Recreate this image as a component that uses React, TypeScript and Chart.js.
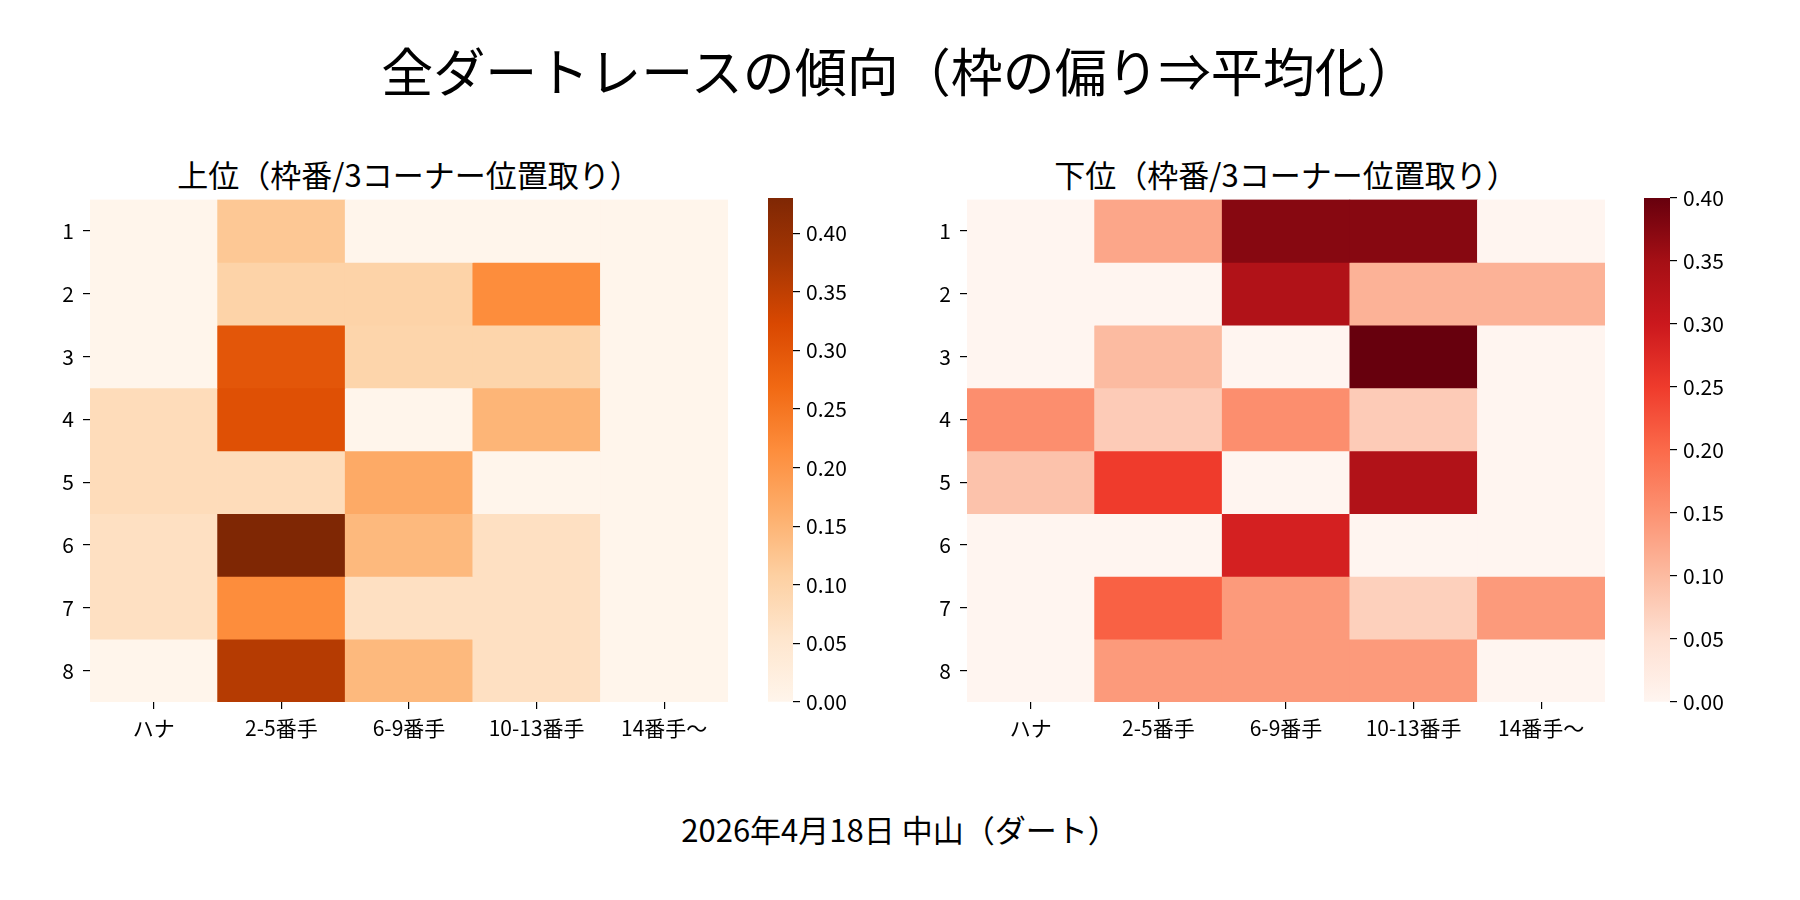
import { useEffect, useRef } from 'react';
import { Chart, registerables } from 'chart.js';

Chart.register(...registerables);

const FONT = '"Noto Sans CJK JP", "Noto Sans", sans-serif';

const columns = ['ハナ', '2-5番手', '6-9番手', '10-13番手', '14番手～'];
const rows = ['1', '2', '3', '4', '5', '6', '7', '8'];

// 上位 (rows = 枠番 1..8, cols = 3コーナー位置取り)
const topValues = [
  [0, 0.12, 0, 0, 0],
  [0, 0.1, 0.1, 0.215, 0],
  [0, 0.3, 0.096, 0.096, 0],
  [0.078, 0.31, 0, 0.15, 0],
  [0.078, 0.078, 0.167, 0, 0],
  [0.068, 0.43, 0.144, 0.068, 0],
  [0.068, 0.215, 0.068, 0.068, 0],
  [0, 0.36, 0.144, 0.068, 0],
];

// 下位
const bottomValues = [
  [0, 0.126, 0.374, 0.374, 0],
  [0, 0, 0.334, 0.111, 0.111],
  [0, 0.1, 0, 0.4, 0],
  [0.155, 0.078, 0.155, 0.078, 0],
  [0.09, 0.25, 0, 0.334, 0],
  [0, 0, 0.288, 0, 0],
  [0, 0.21, 0.14, 0.072, 0.14],
  [0, 0.14, 0.14, 0.14, 0],
];

const topMax = 0.43;
const bottomMax = 0.4;
const colorbarTicks = [0, 0.05, 0.1, 0.15, 0.2, 0.25, 0.3, 0.35, 0.4];

const oranges = ['#fff5eb', '#fee6ce', '#fdd0a2', '#fdae6b', '#fd8d3c', '#f16913', '#d94801', '#a63603', '#7f2704'];
const reds = ['#fff5f0', '#fee0d2', '#fcbba1', '#fc9272', '#fb6a4a', '#ef3b2c', '#cb181d', '#a50f15', '#67000d'];

function hexToRgb(h: string) {
  return [parseInt(h.slice(1, 3), 16), parseInt(h.slice(3, 5), 16), parseInt(h.slice(5, 7), 16)];
}

function cmapColor(stops: string[], t: number) {
  const x = Math.min(Math.max(t, 0), 1) * (stops.length - 1);
  const i = Math.min(Math.floor(x), stops.length - 2);
  const f = x - i;
  const a = hexToRgb(stops[i]);
  const b = hexToRgb(stops[i + 1]);
  const c = a.map((v, k) => Math.round(v + (b[k] - v) * f));
  return `rgb(${c[0]},${c[1]},${c[2]})`;
}

const tickFont = { family: FONT, size: 21 };

interface HeatmapProps {
  values: number[][];
  stops: string[];
  vmax: number;
  left: number; // chart area left
  top: number; // chart area top
  width: number;
  height: number;
}

function Heatmap({ values, stops, vmax, left, top, width, height }: HeatmapProps) {
  const ref = useRef<HTMLCanvasElement>(null);
  const padL = 10;
  const yAxisW = 50;
  const padR = 70;
  const padT = 20;
  const xAxisH = 60;
  const padB = 10;
  const cw = padL + yAxisW + width + padR;
  const ch = padT + height + xAxisH + padB;

  useEffect(() => {
    if (!ref.current) return;
    const chart = new Chart(ref.current, {
      type: 'bar',
      data: {
        labels: columns,
        datasets: rows.map((_, r) => ({
          data: columns.map(() => [r, r + 1] as [number, number]),
          backgroundColor: values[r].map((v) => cmapColor(stops, v / vmax)),
          borderWidth: 0,
          barPercentage: 1,
          categoryPercentage: 1,
          grouped: false,
        })),
      },
      options: {
        responsive: false,
        animation: false,
        layout: { padding: { left: padL, right: padR, top: padT, bottom: padB } },
        plugins: { legend: { display: false }, tooltip: { enabled: false } },
        scales: {
          x: {
            type: 'category',
            border: { display: false },
            grid: { offset: false, drawOnChartArea: false, drawTicks: true, tickLength: 7, tickColor: '#000', lineWidth: 1.2 },
            ticks: { color: '#000', font: tickFont, padding: 6, maxRotation: 0 },
            afterFit: (s: any) => {
              s.height = xAxisH;
            },
          },
          y: {
            type: 'linear',
            min: 0,
            max: rows.length,
            reverse: true,
            border: { display: false },
            grid: { drawOnChartArea: false, drawTicks: true, tickLength: 7, tickColor: '#000', lineWidth: 1.2 },
            ticks: {
              color: '#000',
              font: tickFont,
              padding: 9,
              callback: (v: any) => rows[Math.floor(Number(v))],
            },
            afterBuildTicks: (s: any) => {
              s.ticks = rows.map((_, i) => ({ value: i + 0.5 }));
            },
            afterFit: (s: any) => {
              s.width = yAxisW;
            },
          },
        },
      },
    });
    return () => chart.destroy();
  }, [values, stops, vmax]);

  return (
    <canvas
      ref={ref}
      width={cw}
      height={ch}
      style={{ position: 'absolute', left: left - padL - yAxisW, top: top - padT, width: cw, height: ch }}
    />
  );
}

interface ColorbarProps {
  stops: string[];
  vmax: number;
  left: number;
  top: number;
  width: number;
  height: number;
}

function Colorbar({ stops, vmax, left, top, width, height }: ColorbarProps) {
  const ref = useRef<HTMLCanvasElement>(null);
  const axisW = 90;
  const padT = 20;
  const padB = 20;
  const padR = 10;
  const cw = width + axisW + padR;
  const ch = padT + height + padB;

  useEffect(() => {
    if (!ref.current) return;
    const chart = new Chart(ref.current, {
      type: 'bar',
      data: {
        labels: [''],
        datasets: [
          {
            data: [[0, vmax] as [number, number]],
            backgroundColor: (ctx: any) => {
              const area = ctx.chart.chartArea;
              if (!area) return stops[0];
              const g = ctx.chart.ctx.createLinearGradient(0, area.bottom, 0, area.top);
              stops.forEach((c, i) => g.addColorStop(i / (stops.length - 1), c));
              return g;
            },
            borderWidth: 0,
            barPercentage: 1,
            categoryPercentage: 1,
          },
        ],
      },
      options: {
        responsive: false,
        animation: false,
        layout: { padding: { left: 0, right: padR, top: padT, bottom: padB } },
        plugins: { legend: { display: false }, tooltip: { enabled: false } },
        scales: {
          x: { display: false },
          y: {
            type: 'linear',
            position: 'right',
            min: 0,
            max: vmax,
            border: { display: false },
            grid: { drawOnChartArea: false, drawTicks: true, tickLength: 7, tickColor: '#000', lineWidth: 1.2 },
            ticks: {
              color: '#000',
              font: tickFont,
              padding: 6,
              callback: (v: any) => Number(v).toFixed(2),
            },
            afterBuildTicks: (s: any) => {
              s.ticks = colorbarTicks.filter((t) => t <= vmax + 1e-9).map((t) => ({ value: t }));
            },
            afterFit: (s: any) => {
              s.width = axisW;
            },
          },
        },
      },
    });
    return () => chart.destroy();
  }, [stops, vmax]);

  return (
    <canvas
      ref={ref}
      width={cw}
      height={ch}
      style={{ position: 'absolute', left, top: top - padT, width: cw, height: ch }}
    />
  );
}

function Text({ x, y, size, children }: { x: number; y: number; size: number; children: string }) {
  return (
    <div
      style={{
        position: 'absolute',
        left: x,
        top: y,
        transform: 'translate(-50%, -50%)',
        fontFamily: FONT,
        fontSize: size,
        lineHeight: 1,
        whiteSpace: 'nowrap',
        color: '#000',
      }}
    >
      {children}
    </div>
  );
}

export default function App() {
  return (
    <div
      style={{
        position: 'absolute',
        left: 0,
        top: 0,
        width: 1800,
        height: 900,
        background: '#fff',
        overflow: 'hidden',
      }}
    >
      <Text x={900} y={70} size={52}>全ダートレースの傾向（枠の偏り⇒平均化）</Text>
      <Text x={409} y={173} size={31}>上位（枠番/3コーナー位置取り）</Text>
      <Text x={1286} y={173} size={31}>下位（枠番/3コーナー位置取り）</Text>
      <Heatmap values={topValues} stops={oranges} vmax={topMax} left={90} top={198} width={638} height={504} />
      <Colorbar stops={oranges} vmax={topMax} left={768} top={198} width={25} height={504} />
      <Heatmap values={bottomValues} stops={reds} vmax={bottomMax} left={967} top={198} width={638} height={504} />
      <Colorbar stops={reds} vmax={bottomMax} left={1644} top={198} width={26} height={504} />
      <Text x={900} y={828} size={31}>2026年4月18日 中山（ダート）</Text>
    </div>
  );
}
